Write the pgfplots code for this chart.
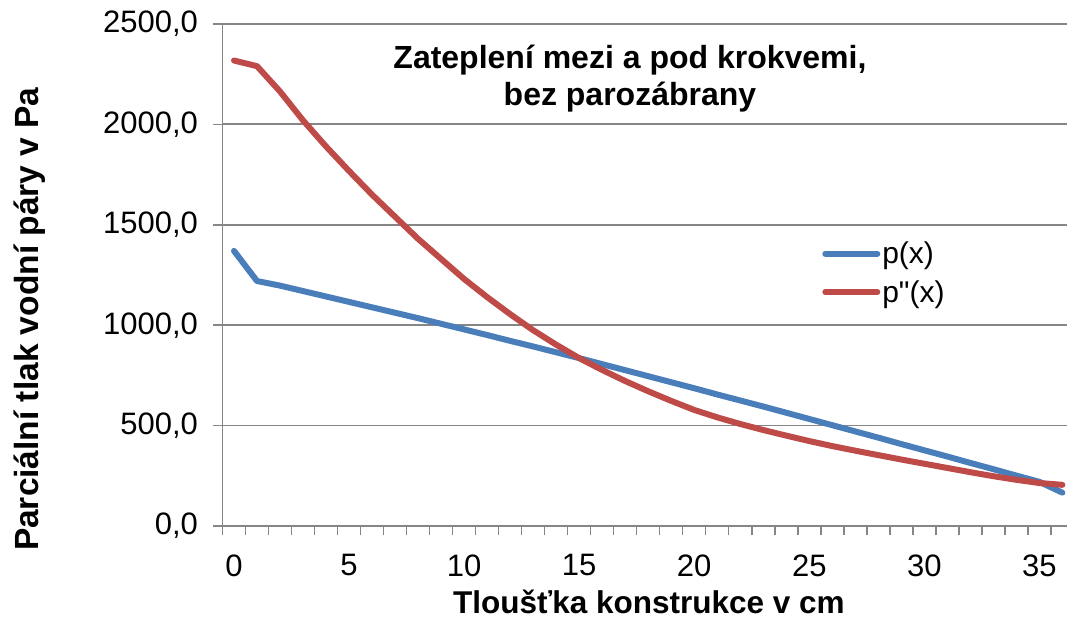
\documentclass[border=0pt]{standalone}
\usepackage{pgfplots}
\pgfplotsset{compat=1.18}
\usepackage{fontspec}
\setmainfont{Liberation Sans}
\newfontfamily\legfont{Liberation Sans}[Ligatures=TeXOff]
\definecolor{exblue}{HTML}{4A7EBB}
\definecolor{exred}{HTML}{BE4B48}
\definecolor{exgrey}{HTML}{868686}
\begin{document}
\begin{tikzpicture}
\path[use as bounding box] (-222.5pt,-94pt) rectangle (844.5pt,526pt);
\begin{axis}[
  at={(0,0)}, anchor=south west,
  scale only axis, width=844.5pt, height=502pt,
  xmin=-0.5, xmax=36.2, ymin=0, ymax=2500,
  axis x line*=bottom, axis y line*=left,
  axis line style={exgrey, line width=1.8pt, -},
  xtick={0,5,...,35},
  minor xtick={-0.5,0.5,...,35.5},
  ytick={0,500,...,2500},
  minor ytick={0,500,...,2500},
  tick align=outside,
  major tick length=0pt, minor tick length=9pt,
  tick style={exgrey, line width=1.5pt},
  ymajorgrids, grid style={exgrey, line width=1.8pt},
  /pgf/number format/assume math mode=true,
  yticklabel style={/pgf/number format/fixed, /pgf/number format/fixed zerofill,
    /pgf/number format/precision=1, /pgf/number format/use comma, /pgf/number format/1000 sep={},
    xshift=-21pt, font=\fontsize{31}{37}\selectfont},
  xticklabel style={yshift=-25pt, font=\fontsize{31}{37}\selectfont},
  clip mode=individual,
  legend style={at={(rel axis cs:0.71,0.570)}, anchor=north west, draw=none, fill=none,
    font=\legfont\fontsize{30}{36}\selectfont, row sep=11pt, inner sep=0pt},
  legend cell align=left,
  legend image code/.code={\draw[#1] (0pt,0pt) -- (52pt,0pt);},
]
\addplot[exblue, line width=6pt, line join=round, line cap=round] coordinates {
(0,1370) (1,1220) (2,1197) (3,1170) (4,1143) (5,1116) (6,1089) (7,1062) (8,1035) (9,1007)
(10,979) (11,951) (12,922) (13,894) (14,865) (15,836) (16,806) (17,776) (18,746) (19,716)
(20,686) (21,655) (22,625) (23,595) (24,564) (25,533) (26,502) (27,471) (28,440) (29,408)
(30,377) (31,346) (32,314) (33,283) (34,251) (35,220) (36,166)
};
\addlegendentry{p(x)}
\addplot[exred, line width=6pt, line join=round, line cap=round] coordinates {
(0,2318) (1,2290) (2,2164) (3,2020) (4,1890) (5,1768) (6,1650) (7,1540) (8,1430) (9,1330)
(10,1230) (11,1140) (12,1055) (13,975) (14,903) (15,836) (16,777) (17,722) (18,671) (19,623)
(20,578) (21,541) (22,508) (23,478) (24,450) (25,423) (26,398) (27,375) (28,353) (29,331)
(30,310) (31,289) (32,268) (33,248) (34,230) (35,214) (36,205)
};
\addlegendentry{p"(x)}
\node[align=center, font=\fontsize{32}{37}\selectfont\bfseries] at (rel axis cs:0.4825,0.892)
  {Zateplení mezi a pod krokvemi,\\bez parozábrany};
\node[inner sep=0pt, font=\fontsize{31.5}{37}\selectfont\bfseries] at (rel axis cs:0.505,-0.152)
  {Tloušťka konstrukce v cm};
\node[rotate=90, font=\fontsize{33.5}{39}\selectfont\bfseries] at (rel axis cs:-0.228,0.412)
  {Parciální tlak vodní páry v Pa};
\end{axis}
\end{tikzpicture}
\end{document}
